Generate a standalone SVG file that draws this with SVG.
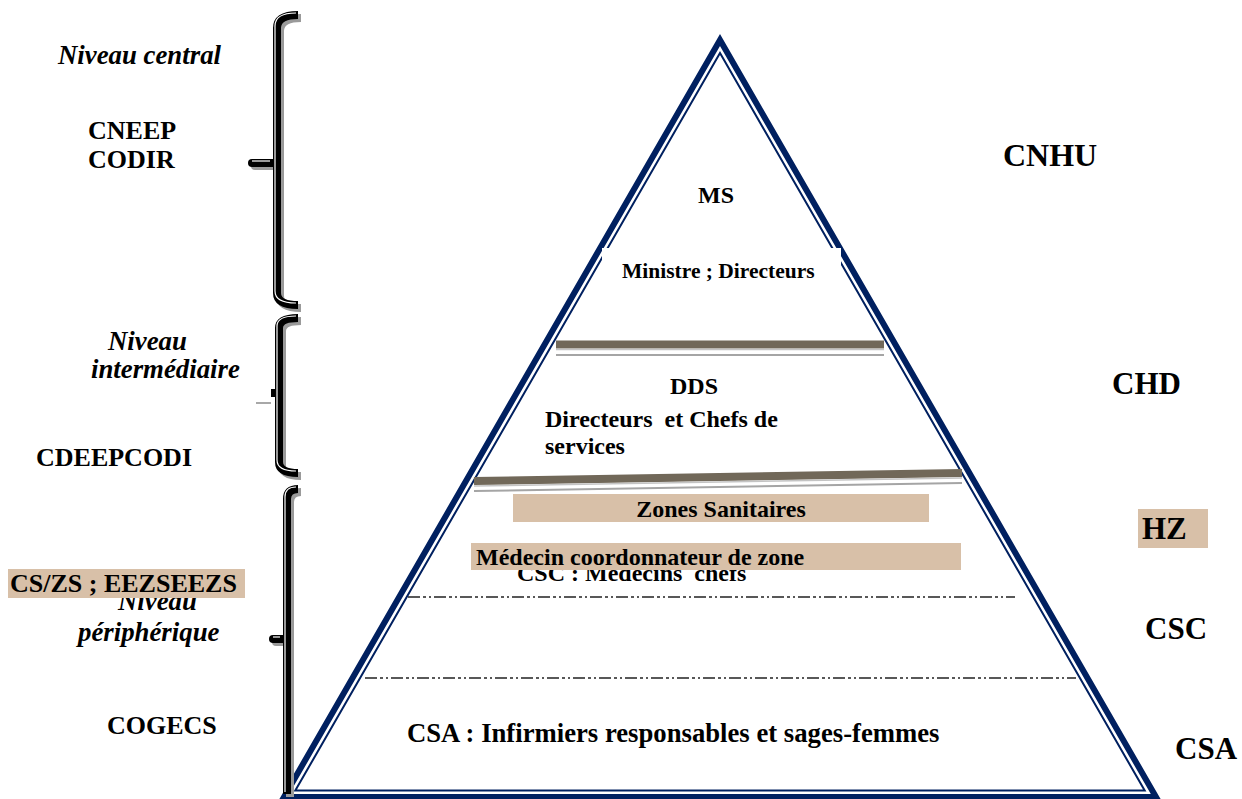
<svg xmlns="http://www.w3.org/2000/svg" width="1242" height="799" viewBox="0 0 1242 799">
<style>
.t{font-family:"Liberation Serif","Times New Roman",serif;font-weight:bold;fill:#000}
.i{font-style:italic}
.tan{fill:#d8c0a8}
.br{fill:none;stroke:#000;stroke-width:8}
.brs{fill:none;stroke:#9a9a9a;stroke-width:8}
.brh{fill:none;stroke:#fff;stroke-width:1.2}
.knob{stroke-linecap:round}
.dash{fill:none;stroke:#222;stroke-width:1.3;stroke-dasharray:12 3 3 3 2 3}
.sepd{fill:none;stroke:#716859;stroke-width:8}
.sepm{fill:none;stroke:#c4c4c4;stroke-width:1.5}
.sepl{fill:none;stroke:#a5a5a5;stroke-width:2}
</style>
<rect width="1242" height="799" fill="#fff"/>

<g id="pyramid">
  <polygon points="720,40 284,797 1156,797" fill="#fff" stroke="#002060" stroke-width="6" stroke-linejoin="miter"/>
  <polygon points="720,53 295.3,790.5 1144.7,790.5" fill="none" stroke="#002060" stroke-width="2"/>
</g>

<g id="connectors">
  <line class="sepd" x1="556" y1="344.5" x2="884" y2="344.5"/>
  <line class="sepm" x1="556" y1="349.5" x2="884" y2="349.5"/>
  <line class="sepl" x1="556" y1="355" x2="884" y2="355"/>
  <line class="sepd" x1="474" y1="481" x2="962" y2="473"/>
  <line class="sepm" x1="474" y1="486" x2="962" y2="478"/>
  <line class="sepl" x1="474" y1="491" x2="962" y2="483"/>
  <line class="dash" x1="408" y1="597" x2="1015" y2="597"/>
  <line class="dash" x1="365" y1="678" x2="1076" y2="678"/>
</g>

<g id="braces">
  <g id="brace-central">
    <path class="brs" transform="translate(3,3)" d="M298 15 Q277 15 277 28 L277 293 Q277 305 298 305"/>
    <path class="brs knob" transform="translate(3,3)" d="M252 163 L277 163"/>
    <path class="br" d="M298 15 Q277 15 277 28 L277 293 Q277 305 298 305"/>
    <path class="br knob" d="M252 163 L277 163"/>
    <path class="brh" transform="translate(-2,-2)" d="M298 15 Q277 15 277 28 L277 293 Q277 305 298 305"/>
    <path class="brh" transform="translate(0,-2)" d="M252 163 L270 163"/>
  </g>
  <g id="brace-intermediaire">
    <path class="brs" transform="translate(3,3)" d="M298 318 Q279 318 279 328 L279 462 Q279 473 298 473"/>
    <line x1="256" y1="403" x2="271" y2="403" stroke="#a8a8a8" stroke-width="2"/>
    <path class="br" d="M298 318 Q279 318 279 328 L279 462 Q279 473 298 473"/>
    <path class="br" d="M271 393 L279 393"/>
    <path class="brh" transform="translate(-2,-2)" d="M298 318 Q279 318 279 328 L279 462 Q279 473 298 473"/>
  </g>
  <g id="brace-peripherique">
    <path class="brs" transform="translate(3,3)" d="M298 489 Q287 489 287 499 L287 794"/>
    <path class="brs knob" transform="translate(3,3)" d="M273 639 L287 639"/>
    <path class="br" d="M298 489 Q287 489 287 499 L287 794"/>
    <path class="br knob" d="M273 639 L287 639"/>
    <path class="brh" transform="translate(-2,-2)" d="M298 489 Q287 489 287 499 L287 794"/>
    <path class="brh" transform="translate(0,-2)" d="M273 639 L280 639"/>
  </g>
</g>

<g id="level-ms">
  <rect x="602" y="248" width="239" height="42" fill="#fff"/>
  <text class="t" x="716" y="203" font-size="24" text-anchor="middle">MS</text>
  <text class="t" x="622" y="278" font-size="21.5">Ministre ; Directeurs</text>
</g>

<g id="level-dds">
  <text class="t" x="670" y="394" font-size="24">DDS</text>
  <text class="t" x="545" y="427" font-size="24" xml:space="preserve">Directeurs  et Chefs de</text>
  <text class="t" x="545" y="454" font-size="24">services</text>
</g>

<g id="level-zs">
  <rect class="tan" x="513" y="494" width="416" height="28"/>
  <text class="t" x="721" y="517" font-size="24" text-anchor="middle">Zones Sanitaires</text>
  <text class="t" x="517" y="581" font-size="24" xml:space="preserve">CSC : Médecins  chefs</text>
  <rect class="tan" x="471" y="543" width="490" height="27"/>
  <text class="t" x="476" y="565" font-size="24">Médecin coordonnateur de zone</text>
</g>

<g id="level-csa">
  <text class="t" x="407" y="742" font-size="26.7">CSA : Infirmiers responsables et sages-femmes</text>
</g>

<g id="left-central">
  <text class="t i" x="58" y="64" font-size="26.8">Niveau central</text>
  <text class="t" x="88" y="139" font-size="26">CNEEP</text>
  <text class="t" x="88" y="168" font-size="26">CODIR</text>
</g>

<g id="left-intermediaire">
  <text class="t i" x="108" y="350" font-size="26.8">Niveau</text>
  <text class="t i" x="91" y="378" font-size="26.8">intermédiaire</text>
  <text class="t" x="36" y="466" font-size="26">CDEEPCODI</text>
</g>

<g id="left-peripherique">
  <text class="t i" x="118" y="610" font-size="26.8">Niveau</text>
  <text class="t i" x="78" y="641" font-size="26.8">périphérique</text>
  <rect class="tan" x="8" y="569" width="237" height="29"/>
  <text class="t" x="10" y="592" font-size="26">CS/ZS ; EEZSEEZS</text>
  <text class="t" x="107" y="734" font-size="26">COGECS</text>
</g>

<g id="right-labels">
  <text class="t" x="1003" y="166" font-size="32">CNHU</text>
  <text class="t" x="1112" y="394" font-size="31">CHD</text>
  <rect class="tan" x="1138" y="509" width="70" height="39"/>
  <text class="t" x="1142" y="539" font-size="31">HZ</text>
  <text class="t" x="1145" y="639" font-size="31">CSC</text>
  <text class="t" x="1175" y="759" font-size="31">CSA</text>
</g>
</svg>
